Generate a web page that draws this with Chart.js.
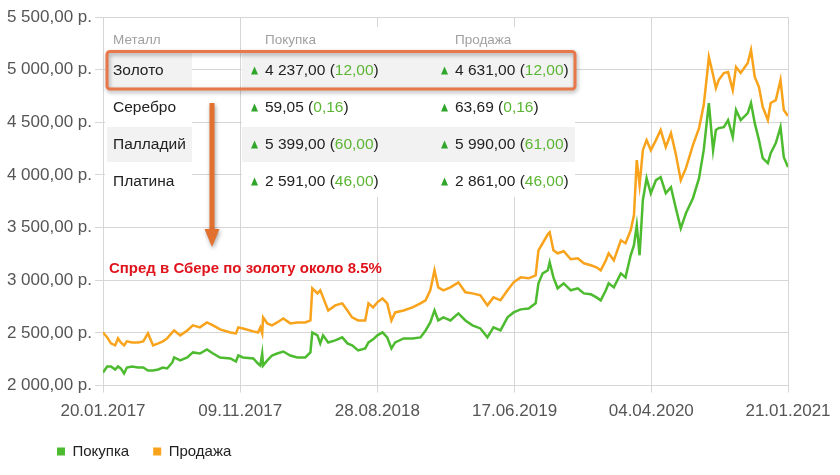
<!DOCTYPE html>
<html><head><meta charset="utf-8">
<script src="https://cdn.jsdelivr.net/npm/chart.js@4/dist/chart.umd.min.js"></script>
<style>html,body{margin:0;padding:0;background:#fff}</style>
</head><body><canvas id="c" width="840" height="475"></canvas>
<script>
// ---------- data ----------
const xTickDays = [0, 293, 586, 879, 1171, 1463];
const xTickLabels = ['20.01.2017', '09.11.2017', '28.08.2018', '17.06.2019', '04.04.2020', '21.01.2021'];
const yTicks = [2000, 2500, 3000, 3500, 4000, 4500, 5000, 5500];
const seriesNames = ['Покупка', 'Продажа'];

// days since 20.01.2017
const days = [
  0, 9, 17, 26, 32, 38, 45, 51, 62, 75,
  86, 96, 107, 118, 128, 137, 148, 152, 165, 180,
  192, 207, 222, 235, 250, 272, 284, 289, 299, 321,
  331, 336, 340, 342, 351, 361, 372, 385, 400, 415,
  432, 443, 447, 458, 464, 470, 481, 496, 511, 522,
  532, 545, 560, 567, 577, 586, 597, 607, 616, 624,
  642, 661, 678, 689, 699, 708, 716, 727, 742, 759,
  774, 789, 806, 821, 834, 849, 864, 877, 892, 909,
  924, 930, 939, 950, 954, 962, 971, 984, 999, 1014,
  1027, 1042, 1054, 1063, 1074, 1080, 1091, 1106, 1116, 1127,
  1134, 1140, 1146, 1153, 1161, 1170, 1181, 1191, 1202, 1213,
  1223, 1234, 1245, 1260, 1273, 1283, 1290, 1294, 1303, 1309,
  1315, 1326, 1335, 1345, 1352, 1362, 1377, 1384, 1392, 1401,
  1409, 1420, 1426, 1437, 1447, 1454, 1463
];
const buyPrices = [
  2124, 2181, 2181, 2152, 2181, 2162, 2114, 2171, 2181, 2171,
  2171, 2143, 2143, 2152, 2171, 2162, 2219, 2266, 2238, 2266,
  2314, 2304, 2342, 2304, 2266, 2257, 2228, 2285, 2266, 2257,
  2209, 2190, 2304, 2190, 2238, 2285, 2304, 2323, 2285, 2266,
  2266, 2314, 2504, 2476, 2400, 2476, 2409, 2428, 2457, 2400,
  2381, 2333, 2352, 2409, 2438, 2476, 2504, 2457, 2352, 2409,
  2447, 2447, 2457, 2523, 2599, 2713, 2618, 2647, 2618, 2685,
  2618, 2571, 2542, 2457, 2552, 2523, 2647, 2694, 2723, 2732,
  2780, 2970, 3065, 3094, 3170, 3027, 2923, 2970, 2904, 2923,
  2875, 2866, 2837, 2809, 2904, 2970, 2932, 3065, 3027, 3237,
  3332, 3522, 3237, 3760, 3969, 3826, 3950, 3979, 3826, 3883,
  3693, 3493, 3636, 3779, 3969, 4235, 4521, 4683, 4235, 4426,
  4445, 4454, 4521, 4359, 4616, 4521, 4587, 4683, 4492, 4331,
  4159, 4112, 4207, 4302, 4454, 4169, 4074
];
const sellPrices = [
  2504, 2457, 2400, 2381, 2447, 2409, 2381, 2419, 2409, 2409,
  2419, 2495, 2381, 2400, 2419, 2447, 2504, 2523, 2476, 2523,
  2571, 2552, 2599, 2571, 2533, 2504, 2495, 2552, 2542, 2514,
  2504, 2552, 2495, 2647, 2590, 2571, 2599, 2637, 2590, 2599,
  2599, 2618, 2923, 2875, 2904, 2837, 2713, 2761, 2780, 2713,
  2647, 2618, 2618, 2780, 2742, 2790, 2828, 2780, 2618, 2694,
  2713, 2742, 2780, 2809, 2904, 3094, 2932, 2904, 2932, 2980,
  2885, 2875, 2856, 2761, 2837, 2809, 2904, 2980, 3027, 3018,
  3046, 3284, 3351, 3436, 3455, 3284, 3256, 3275, 3199, 3208,
  3161, 3142, 3123, 3094, 3189, 3256, 3189, 3379, 3351, 3474,
  3617, 4140, 3903, 4235, 4331, 4235, 4331, 4426, 4264, 4397,
  4207, 3950, 4064, 4283, 4445, 4664, 4949, 5120, 4949, 4825,
  4901, 4968, 4977, 4806, 5025, 4968, 5063, 5187, 4930, 4835,
  4645, 4521, 4683, 4711, 4901, 4616, 4560
];

// overlay table
const tableHeaders = ['Металл', 'Покупка', 'Продажа'];
const tableMetals = ['Золото', 'Серебро', 'Палладий', 'Платина'];
const tableBuy = ['4 237,00', '59,05', '5 399,00', '2 591,00'];
const tableBuyChange = ['12,00', '0,16', '60,00', '46,00'];
const tableSell = ['4 631,00', '63,69', '5 990,00', '2 861,00'];
const tableSellChange = ['12,00', '0,16', '61,00', '46,00'];
const noteText = 'Спред в Сбере по золоту около 8.5%';

// ---------- styles ----------
const GREEN = '#4dbb2f';
const ORANGE = '#f8a31b';
const GRID = '#d6d6d6';
const FONT = "'Liberation Sans', Arial, sans-serif";
Chart.defaults.font.family = FONT;

function fmtRub(v) {
  const th = Math.floor(v / 1000), r = v % 1000;
  return th + ' ' + String(r).padStart(3, '0') + ',00 р.';
}

const overlay = {
  id: 'overlay',
  afterLayout(chart) {
    // place legend like the original (starts at x≈57)
    chart.legend.left = 33;
  },
  beforeDatasetsDraw(chart) {
    const c = chart.ctx, a = chart.chartArea;
    const L = a.left, top = 27, bot = 197;
    c.save();
    c.fillStyle = '#fff';
    c.fillRect(L + 2, top, 192 - (L + 2), bot - top);
    c.fillRect(242, top, 575 - 242, bot - top);
    const rowY = [70.5, 107.5, 144.5, 181.5];
    c.fillStyle = '#f2f2f2';
    [0, 2].forEach(i => {
      c.fillRect(L + 4, rowY[i] - 17.5, 192 - (L + 4), 35);
      c.fillRect(242, rowY[i] - 17.5, 575 - 242, 35);
    });
    c.textBaseline = 'middle';
    c.textAlign = 'left';
    c.font = '13.5px ' + FONT;
    c.fillStyle = '#a0a0a0';
    c.fillText(tableHeaders[0], 113, 40);
    c.fillText(tableHeaders[1], 265, 40);
    c.fillText(tableHeaders[2], 455, 40);
    c.font = '15.5px ' + FONT;
    const tri = (x, y) => {
      c.fillStyle = '#2fa52a';
      c.beginPath(); c.moveTo(x, y + 4); c.lineTo(x + 7, y + 4); c.lineTo(x + 3.5, y - 4); c.closePath(); c.fill();
    };
    const val = (x, y, main, ch) => {
      c.fillStyle = '#222';
      let s = main + ' (';
      c.fillText(s, x, y); x += c.measureText(s).width;
      c.fillStyle = '#5bb532';
      c.fillText(ch, x, y); x += c.measureText(ch).width;
      c.fillStyle = '#222';
      c.fillText(')', x, y);
    };
    tableMetals.forEach((m, i) => {
      const y = rowY[i];
      c.fillStyle = '#222';
      c.fillText(m, 113, y);
      tri(251, y);
      val(265, y, tableBuy[i], tableBuyChange[i]);
      tri(441, y);
      val(455, y, tableSell[i], tableSellChange[i]);
    });
    c.restore();
  },
  afterDraw(chart) {
    const c = chart.ctx;
    c.save();
    c.shadowColor = 'rgba(0,0,0,0.35)';
    c.shadowBlur = 4; c.shadowOffsetX = 1; c.shadowOffsetY = 2;
    c.strokeStyle = '#e8784a';
    c.lineWidth = 3;
    c.beginPath();
    c.roundRect(107, 51.5, 468, 37.5, 3);
    c.stroke();
    c.strokeStyle = '#e2702e';
    c.lineWidth = 5;
    c.beginPath(); c.moveTo(212, 103); c.lineTo(212, 232); c.stroke();
    c.fillStyle = '#e2702e';
    c.beginPath(); c.moveTo(204.5, 229); c.lineTo(219.5, 229); c.lineTo(212, 247); c.closePath(); c.fill();
    c.restore();
    c.save();
    c.font = 'bold 15.5px ' + FONT;
    let w = c.measureText(noteText).width;
    const size = 15.5 * 273 / w;
    c.font = 'bold ' + size.toFixed(2) + 'px ' + FONT;
    c.fillStyle = '#e0141c';
    c.textBaseline = 'middle';
    c.fillText(noteText, 109, 268.5);
    c.restore();
  }
};

new Chart(document.getElementById('c'), {
  type: 'line',
  data: {
    datasets: [
      { label: seriesNames[0], data: days.map((d, i) => ({ x: d, y: buyPrices[i] })),
        borderColor: GREEN, backgroundColor: GREEN, borderWidth: 2.5, pointRadius: 0, tension: 0 },
      { label: seriesNames[1], data: days.map((d, i) => ({ x: d, y: sellPrices[i] })),
        borderColor: ORANGE, backgroundColor: ORANGE, borderWidth: 2.5, pointRadius: 0, tension: 0 }
    ]
  },
  options: {
    responsive: false,
    animation: false,
    layout: { padding: { left: 0, right: 52, top: 17, bottom: 6 } },
    plugins: {
      tooltip: { enabled: false },
      legend: {
        position: 'bottom', align: 'start',
        labels: {
          boxWidth: 8, boxHeight: 8, padding: 24, color: '#222',
          font: { size: 15, family: FONT },
          generateLabels(chart) {
            const items = Chart.defaults.plugins.legend.labels.generateLabels(chart);
            items.forEach(it => { it.lineWidth = 0; it.strokeStyle = 'rgba(0,0,0,0)'; });
            return items;
          }
        }
      }
    },
    scales: {
      x: {
        type: 'linear', min: xTickDays[0], max: xTickDays[xTickDays.length - 1],
        afterBuildTicks(s) { s.ticks = xTickDays.map(v => ({ value: v })); },
        afterFit(s) { s.height = 34.5; },
        ticks: { autoSkip: false, maxRotation: 0, padding: 9, color: '#555', font: { size: 17 },
          callback: (v, i) => xTickLabels[i] },
        grid: { color: GRID, tickLength: 7, lineWidth: 1 },
        border: { color: GRID }
      },
      y: {
        min: yTicks[0], max: yTicks[yTicks.length - 1],
        afterBuildTicks(s) { s.ticks = yTicks.map(v => ({ value: v })); },
        afterFit(s) { s.width = 103; },
        ticks: { padding: 3, color: '#555', font: { size: 17 }, callback: v => fmtRub(v) },
        grid: { color: GRID, tickLength: 8, lineWidth: 1 },
        border: { color: GRID }
      }
    }
  },
  plugins: [overlay]
});
</script>
</body></html>
